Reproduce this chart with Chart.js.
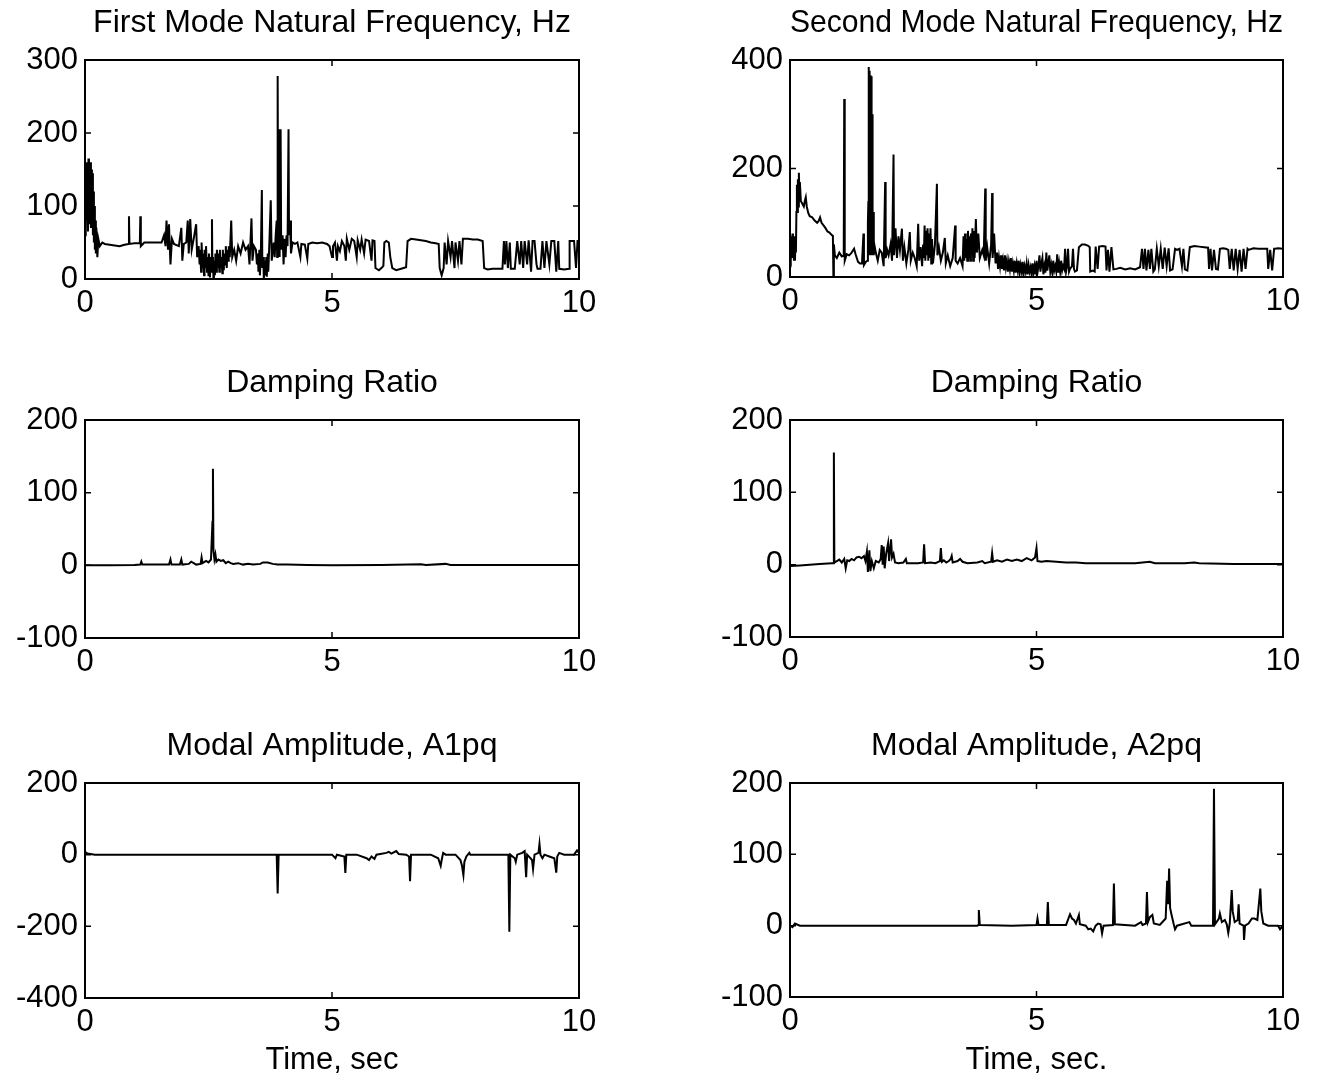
<!DOCTYPE html>
<html><head><meta charset="utf-8">
<script src="https://cdn.jsdelivr.net/npm/chart.js@4/dist/chart.umd.min.js"></script>
<style>
html,body{margin:0;padding:0;background:#fff;overflow:hidden;width:1322px;height:1080px;position:relative;}
canvas{position:absolute;}
</style></head><body>
<script>
// ---------------- DATA ----------------
const xTicks = [0, 5, 10];

const titles = [
  "First Mode Natural Frequency, Hz",
  "Second Mode Natural Frequency, Hz",
  "Damping Ratio",
  "Damping Ratio",
  "Modal Amplitude, A1pq",
  "Modal Amplitude, A2pq"
];
const xTitles = [null, null, null, null, "Time, sec", "Time, sec."];

const f1Ticks = [0, 100, 200, 300];
const f2Ticks = [0, 200, 400];
const d1Ticks = [-100, 0, 100, 200];
const d2Ticks = [-100, 0, 100, 200];
const a1Ticks = [-400, -200, 0, 200];
const a2Ticks = [-100, 0, 100, 200];

// First mode natural frequency (Hz)
const f1T = [
0.00,0.01,0.02,0.03,0.04,0.05,0.06,0.07,0.08,0.09,
0.10,0.11,0.12,0.13,0.14,0.15,0.16,0.17,0.18,0.19,
0.20,0.21,0.22,0.23,0.25,0.27,0.30,0.35,0.40,0.50,
0.60,0.70,0.80,0.88,0.89,0.90,1.00,1.11,1.12,1.13,
1.20,1.40,1.55,1.60,1.63,1.65,1.68,1.70,1.73,1.76,
1.80,1.90,1.95,1.97,2.00,2.05,2.08,2.10,2.13,2.16,
2.20,2.25,2.27,2.30,2.32,2.33,2.35,2.36,2.38,2.39,
2.41,2.42,2.44,2.45,2.47,2.48,2.50,2.51,2.53,2.54,
2.56,2.57,2.58,2.59,2.60,2.61,2.63,2.64,2.66,2.67,
2.69,2.70,2.72,2.73,2.75,2.76,2.78,2.79,2.81,2.82,
2.84,2.85,2.87,2.88,2.90,2.91,2.93,2.96,2.98,3.02,
3.06,3.10,3.15,3.20,3.25,3.30,3.33,3.37,3.39,3.42,
3.46,3.48,3.50,3.51,3.53,3.54,3.56,3.58,3.59,3.61,
3.62,3.64,3.65,3.67,3.68,3.70,3.71,3.73,3.76,3.78,
3.82,3.84,3.86,3.88,3.89,3.90,3.91,3.92,3.93,3.94,
3.95,3.96,3.97,3.98,4.00,4.02,4.04,4.06,4.08,4.10,
4.12,4.13,4.15,4.17,4.20,4.25,4.30,4.36,4.38,4.45,
4.50,4.52,4.60,4.70,4.80,4.90,4.95,5.00,5.02,5.06,
5.10,5.12,5.16,5.20,5.25,5.28,5.30,5.35,5.40,5.45,
5.50,5.52,5.57,5.60,5.65,5.68,5.75,5.80,5.82,5.86,
5.88,5.95,6.00,6.04,6.06,6.10,6.15,6.18,6.22,6.30,
6.40,6.50,6.53,6.60,6.70,6.80,6.90,7.00,7.10,7.16,
7.18,7.22,7.26,7.28,7.32,7.35,7.40,7.43,7.48,7.50,
7.55,7.58,7.62,7.65,7.75,7.85,7.95,8.05,8.08,8.15,
8.25,8.35,8.45,8.48,8.50,8.53,8.56,8.60,8.62,8.70,
8.75,8.80,8.83,8.87,8.90,8.95,8.98,9.03,9.06,9.10,
9.14,9.16,9.22,9.26,9.30,9.34,9.40,9.44,9.50,9.54,
9.58,9.60,9.70,9.80,9.81,9.90,9.94,9.97,10.00];
const f1V = [
60,140,70,160,80,150,65,165,75,155,
90,160,70,150,85,145,60,120,50,100,
40,80,35,70,30,55,45,50,48,47,
46,45,47,48,86,48,49,49,86,45,
50,50,50,60,45,80,40,75,20,55,
48,45,70,25,48,50,80,35,82,40,
55,75,30,45,20,40,10,50,15,35,
5,40,15,45,10,30,5,35,2,30,
10,82,10,30,0,25,5,35,10,40,
15,35,10,40,15,30,8,40,12,35,
20,45,15,40,25,45,30,80,30,40,
25,45,35,50,40,45,20,83,25,45,
40,20,35,10,40,5,35,122,15,30,
0,25,5,30,3,35,10,45,108,25,
50,30,60,80,30,278,50,150,205,30,
190,205,60,40,60,20,55,30,60,45,
205,60,80,35,50,48,50,30,48,47,
28,48,50,49,50,48,45,30,45,50,
25,45,38,52,45,25,55,40,55,52,
30,53,40,54,35,54,52,25,53,52,
15,12,15,18,50,52,50,30,15,12,
14,16,52,55,54,53,52,50,49,48,
15,5,15,50,20,52,30,52,15,50,
25,52,20,55,55,54,54,52,15,13,
14,14,14,52,20,52,15,50,14,14,
52,20,52,15,52,20,53,10,52,52,
20,14,14,52,15,52,20,52,52,10,
52,14,13,14,52,52,15,52,52];

// Second mode natural frequency (Hz)
const f2T = [
0.00,0.01,0.02,0.03,0.04,0.05,0.06,0.07,0.08,0.09,
0.10,0.11,0.12,0.13,0.14,0.15,0.16,0.17,0.18,0.19,
0.20,0.22,0.25,0.28,0.30,0.32,0.34,0.37,0.40,0.45,
0.50,0.55,0.58,0.61,0.64,0.68,0.72,0.76,0.80,0.85,
0.87,0.88,0.89,0.91,0.95,1.00,1.05,1.09,1.10,1.11,
1.15,1.20,1.25,1.30,1.33,1.38,1.42,1.46,1.49,1.50,
1.54,1.57,1.58,1.59,1.595,1.60,1.605,1.61,1.615,1.62,
1.625,1.63,1.635,1.64,1.645,1.65,1.655,1.66,1.665,1.67,
1.675,1.68,1.69,1.70,1.71,1.74,1.78,1.82,1.86,1.90,
1.93,1.94,1.97,2.00,2.04,2.07,2.10,2.11,2.14,2.17,
2.20,2.23,2.27,2.29,2.32,2.36,2.40,2.43,2.45,2.49,
2.53,2.57,2.60,2.62,2.65,2.68,2.70,2.715,2.73,2.745,
2.76,2.775,2.79,2.805,2.82,2.835,2.85,2.865,2.88,2.90,
2.94,2.98,2.99,3.02,3.06,3.10,3.14,3.16,3.20,3.25,
3.30,3.35,3.36,3.40,3.45,3.50,3.52,3.535,3.55,3.565,
3.58,3.595,3.61,3.625,3.64,3.655,3.67,3.685,3.70,3.715,
3.73,3.745,3.77,3.79,3.82,3.85,3.90,3.93,3.96,3.97,
4.00,4.04,4.08,4.10,4.11,4.14,4.17,4.20,4.22,4.24,
4.26,4.28,4.30,4.32,4.34,4.36,4.38,4.40,4.42,4.44,
4.46,4.48,4.50,4.52,4.54,4.56,4.58,4.60,4.62,4.64,
4.66,4.68,4.70,4.72,4.74,4.76,4.78,4.80,4.82,4.84,
4.86,4.88,4.90,4.92,4.94,4.96,4.98,5.00,5.02,5.04,
5.06,5.08,5.10,5.12,5.14,5.16,5.18,5.20,5.22,5.24,
5.26,5.28,5.30,5.32,5.34,5.36,5.38,5.40,5.42,5.44,
5.46,5.48,5.50,5.52,5.54,5.56,5.58,5.60,5.62,5.64,
5.66,5.68,5.72,5.74,5.76,5.78,5.82,5.86,5.92,5.98,
6.04,6.08,6.09,6.14,6.18,6.20,6.24,6.27,6.34,6.40,
6.42,6.45,6.48,6.52,6.56,6.62,6.70,6.80,6.90,7.00,
7.10,7.14,7.17,7.20,7.23,7.27,7.30,7.33,7.37,7.40,
7.44,7.48,7.52,7.56,7.60,7.64,7.68,7.71,7.76,7.81,
7.85,7.90,7.95,7.98,8.01,8.06,8.11,8.20,8.30,8.40,
8.48,8.50,8.53,8.56,8.60,8.64,8.68,8.72,8.78,8.84,
8.89,8.92,8.96,9.00,9.04,9.08,9.12,9.16,9.20,9.24,
9.28,9.30,9.40,9.50,9.60,9.68,9.70,9.74,9.78,9.82,
9.84,9.90,10.00];
const f2V = [
35,70,30,75,35,80,35,70,30,75,
30,60,45,120,170,120,180,130,192,150,
175,140,135,130,140,147,130,118,112,110,
104,100,103,110,100,95,90,84,82,77,
76,2,60,40,35,45,38,40,328,30,
42,40,45,52,42,28,25,25,80,22,
28,30,100,140,387,60,380,40,370,90,
372,40,360,80,370,120,370,60,300,40,
250,50,120,40,60,45,30,50,45,20,
175,35,50,40,60,30,226,40,90,35,
75,50,89,30,55,25,50,83,30,45,
35,20,98,30,55,20,60,35,95,30,
85,40,90,30,80,35,90,25,70,25,
60,172,40,55,30,45,72,25,40,20,
35,95,30,25,35,20,75,30,80,35,
70,30,85,35,75,30,80,40,90,30,
85,35,107,45,80,35,50,40,163,30,
55,25,60,155,35,80,25,45,15,35,
20,40,15,30,12,40,18,30,10,28,
15,35,10,25,12,30,8,25,12,30,
8,22,10,28,6,20,10,25,5,22,
10,18,4,25,8,20,5,30,8,20,
40,10,25,35,5,20,8,45,12,25,
40,10,22,8,30,12,20,10,42,8,
25,10,30,12,20,15,52,10,20,52,
10,15,20,52,15,10,12,55,60,60,
58,55,10,12,10,56,15,56,57,56,
12,50,10,55,14,15,17,14,16,14,
18,52,15,52,12,50,15,52,10,14,
52,20,52,15,54,20,53,12,14,52,
50,52,20,52,14,12,55,57,56,55,
54,15,52,12,50,15,14,52,53,52,
50,15,52,12,52,15,50,10,52,15,
52,50,53,52,52,52,15,50,12,52,
52,53,52];

// Damping ratio, mode 1
const d1T = [0,0.5,1.0,1.12,1.14,1.16,1.5,1.70,1.73,1.75,1.92,1.95,1.97,2.10,2.15,2.20,2.25,2.34,2.36,2.38,2.45,2.50,2.55,2.58,2.59,2.60,2.62,2.64,2.66,2.70,2.75,2.80,2.85,2.90,2.95,3.00,3.10,3.20,3.30,3.40,3.55,3.60,3.70,3.80,3.90,4.1,4.5,5,6,6.8,6.9,7.3,7.4,8,9,10];
const d1V = [0,0,0.5,1,5,1,1,1,8,1,1,8,1,2,5,3,1,2,11,3,6,4,8,60,133,20,8,15,5,8,6,7,3,5,3,2,3,1,2,1,2,4,4,2,1,1,0.5,0,0.5,1.5,0.5,2,0.5,0.5,0.5,0.5];

// Damping ratio, mode 2
const d2T = [0,0.2,0.4,0.6,0.85,0.88,0.89,0.90,0.95,1.0,1.05,1.10,1.13,1.16,1.20,1.25,1.30,1.35,1.40,1.45,1.50,1.53,1.56,1.58,1.61,1.63,1.66,1.70,1.74,1.80,1.84,1.86,1.88,1.90,1.92,1.95,1.99,2.01,2.05,2.07,2.10,2.13,2.20,2.30,2.35,2.37,2.50,2.60,2.70,2.72,2.74,2.85,2.95,3.04,3.06,3.08,3.12,3.17,3.22,3.26,3.28,3.30,3.40,3.45,3.50,3.60,3.80,3.90,3.95,4.08,4.10,4.12,4.2,4.3,4.4,4.5,4.6,4.7,4.8,4.9,4.97,5.0,5.02,5.1,5.2,5.4,5.6,5.8,6.0,6.5,7.0,7.3,7.4,8.0,8.2,8.3,9,10];
const d2V = [-2,-1,0,1,2,2,155,3,5,7,3,8,-5,6,5,8,6,10,11,9,12,5,18,-10,20,-9,5,-5,5,3,8,27,0,25,-5,15,30,5,35,10,15,3,2,3,8,2,2,2,3,28,2,3,2,5,23,4,6,3,5,8,12,3,5,8,4,2,3,5,2,4,16,4,6,4,7,5,7,5,9,6,10,23,5,4,5,4,3,3,2,2,2,4,2,2,3,2,1,1];

// Modal amplitude A1pq
const a1T = [0,0.05,0.2,1,2,3,3.88,3.9,3.92,4.5,5.0,5.07,5.1,5.25,5.27,5.29,5.5,5.7,5.75,5.8,5.86,5.9,6.1,6.15,6.2,6.3,6.35,6.5,6.56,6.58,6.60,7.0,7.15,7.2,7.22,7.25,7.3,7.5,7.6,7.63,7.66,7.68,7.72,7.78,7.8,8.3,8.57,8.59,8.61,8.7,8.72,8.75,8.85,8.9,8.93,8.95,9.05,9.07,9.1,9.18,9.2,9.22,9.26,9.3,9.4,9.5,9.54,9.56,9.6,9.7,9.9,9.96,10];
const a1V = [8,3,0,0,0,0,0,-108,0,0,0,-10,0,-5,-51,0,0,-10,-15,-5,-12,0,5,8,3,10,2,0,-5,-74,0,0,-10,-31,-15,5,0,0,-15,-30,-57,-20,-5,5,0,0,0,-215,0,-10,-20,0,5,10,-63,0,-15,-40,0,5,30,0,-10,0,-5,-10,-50,-5,5,0,0,12,5];

// Modal amplitude A2pq
const a2T = [0,0.05,0.1,0.2,1,2,3,3.8,3.82,3.83,3.85,4.5,5.0,5.02,5.04,5.21,5.23,5.25,5.6,5.68,5.72,5.76,5.8,5.86,5.88,6.0,6.05,6.1,6.15,6.2,6.25,6.3,6.33,6.36,6.55,6.57,6.59,7.0,7.12,7.15,7.22,7.24,7.26,7.3,7.35,7.38,7.5,7.62,7.65,7.67,7.69,7.71,7.74,7.78,7.81,7.85,8.1,8.14,8.58,8.6,8.62,8.7,8.72,8.76,8.82,8.86,8.89,8.92,8.96,8.98,9.02,9.08,9.1,9.12,9.2,9.21,9.23,9.3,9.37,9.42,9.48,9.54,9.56,9.6,9.7,9.9,9.94,10];
const a2V = [0,-2,3,0,0,0,0,0,1,22,1,0,1,10,1,1,33,1,1,16,10,8,3,15,2,0,-5,-4,-8,0,3,2,-11,0,1,59,2,0,5,1,3,47,5,12,15,3,1,10,63,30,80,25,15,3,-5,0,5,0,0,192,2,10,17,5,8,2,-10,3,50,20,5,8,30,3,0,-20,0,3,10,10,8,52,20,3,0,0,-5,0];

// ---------------- LAYOUT ----------------
const panels = [
  {t:f1T, v:f1V, ticks:f1Ticks, left:0,   top:0,   w:640, h:330, yW:85,  padR:61, xH:51},
  {t:f2T, v:f2V, ticks:f2Ticks, left:640, top:0,   w:682, h:330, yW:150, padR:39, xH:53},
  {t:d1T, v:d1V, ticks:d1Ticks, left:0,   top:360, w:640, h:330, yW:85,  padR:61, xH:52},
  {t:d2T, v:d2V, ticks:d2Ticks, left:640, top:360, w:682, h:330, yW:150, padR:39, xH:53},
  {t:a1T, v:a1V, ticks:a1Ticks, left:0,   top:723, w:640, h:357, yW:85,  padR:61, xH:82},
  {t:a2T, v:a2V, ticks:a2Ticks, left:640, top:723, w:682, h:357, yW:150, padR:39, xH:83}
];

Chart.defaults.font.family = "'Liberation Sans', Arial, Helvetica, sans-serif";
Chart.defaults.color = '#000';

const frame = {
  id: 'frame',
  afterDatasetsDraw(chart) {
    const {ctx, chartArea: a, scales} = chart;
    ctx.save();
    ctx.strokeStyle = '#000';
    ctx.lineWidth = 2;
    ctx.strokeRect(a.left, a.top, a.right - a.left, a.bottom - a.top);
    ctx.lineWidth = 1.5;
    const L = 6;
    ctx.beginPath();
    scales.x.ticks.forEach(tk => {
      const px = scales.x.getPixelForValue(tk.value);
      if (px <= a.left + 1 || px >= a.right - 1) return;
      ctx.moveTo(px, a.top); ctx.lineTo(px, a.top + L);
      ctx.moveTo(px, a.bottom); ctx.lineTo(px, a.bottom - L);
    });
    scales.y.ticks.forEach(tk => {
      const py = scales.y.getPixelForValue(tk.value);
      if (py <= a.top + 1 || py >= a.bottom - 1) return;
      ctx.moveTo(a.left, py); ctx.lineTo(a.left + L, py);
      ctx.moveTo(a.right, py); ctx.lineTo(a.right - L, py);
    });
    ctx.stroke();
    ctx.restore();
  }
};

panels.forEach((p, i) => {
  const cv = document.createElement('canvas');
  cv.width = p.w; cv.height = p.h;
  cv.style.left = p.left + 'px'; cv.style.top = p.top + 'px';
  cv.style.width = p.w + 'px'; cv.style.height = p.h + 'px';
  document.body.appendChild(cv);
  const pts = p.t.map((x, k) => ({x: x, y: p.v[k]}));
  const yMin = p.ticks[0], yMax = p.ticks[p.ticks.length - 1];
  new Chart(cv, {
    type: 'line',
    data: { datasets: [{ data: pts, borderColor: '#000', borderWidth: 2, pointRadius: 0, tension: 0, fill: false, borderJoinStyle: 'miter' }] },
    plugins: [frame],
    options: {
      responsive: false, animation: false, devicePixelRatio: 1,
      events: [],
      layout: { padding: { left: 0, right: p.padR, top: 0, bottom: 0 } },
      plugins: {
        legend: { display: false }, tooltip: { enabled: false },
        title: { display: true, text: titles[i], fullSize: false, color: '#000',
                 font: { size: 32, weight: 'normal' }, padding: { top: 4, bottom: 17.6 } }
      },
      scales: {
        x: {
          type: 'linear', min: 0, max: 10,
          afterBuildTicks: s => { s.ticks = xTicks.map(v => ({value: v})); },
          afterFit: s => { s.height = p.xH; },
          grid: { display: false, drawTicks: false }, border: { display: false },
          ticks: { font: { size: 31 }, color: '#000', padding: 6, maxRotation: 0, autoSkip: false },
          title: xTitles[i] ? { display: true, text: xTitles[i], color: '#000', font: { size: 31 }, padding: { top: 0, bottom: 1 } } : { display: false }
        },
        y: {
          type: 'linear', min: yMin, max: yMax,
          afterBuildTicks: s => { s.ticks = p.ticks.map(v => ({value: v})); },
          afterFit: s => { s.width = p.yW; },
          grid: { display: false, drawTicks: false }, border: { display: false },
          ticks: { font: { size: 31 }, color: '#000', padding: 7, autoSkip: false }
        }
      }
    }
  });
});
</script>
</body></html>
